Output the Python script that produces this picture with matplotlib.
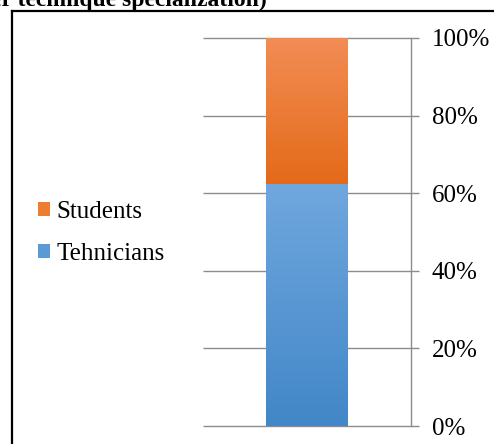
import numpy as np
import matplotlib
matplotlib.use("Agg")
import matplotlib.pyplot as plt
from matplotlib.lines import Line2D
from matplotlib.colors import LinearSegmentedColormap

# Data: share of each group (percent)
categories = ["Tehnicians", "Students"]
shares = [62.4, 37.6]
tick_values = [0, 20, 40, 60, 80, 100]
tick_labels = ["0%", "20%", "40%", "60%", "80%", "100%"]

# gradient colours (top, bottom) for each series
gradients = {
    "Tehnicians": ("#70A7DE", "#4287C8"),
    "Students": ("#F28D55", "#E46A19"),
}
solid = {"Tehnicians": "#5B9BD5", "Students": "#ED7D31"}

W, H = 494, 444
fig = plt.figure(figsize=(W / 100, H / 100), dpi=100)
serif = "Liberation Serif"

ax = fig.add_axes([203 / W, (H - 426) / H, (411 - 203) / W, (426 - 38) / H])

bottom = 0
patches = []
for name, val in zip(categories, shares):
    b = ax.bar(0, val, width=0.394, bottom=bottom, color=solid[name],
               label=name, zorder=3, linewidth=0)
    p = b.patches[0]
    top_c, bot_c = gradients[name]
    cmap = LinearSegmentedColormap.from_list(name, [bot_c, top_c])
    grad = np.linspace(0, 1, 256).reshape(-1, 1)
    im = ax.imshow(grad, cmap=cmap, aspect="auto", origin="lower",
                   extent=[p.get_x(), p.get_x() + p.get_width(), bottom, bottom + val],
                   zorder=4)
    im.set_clip_path(p)
    patches.append(p)
    bottom += val
ax.set_xlim(-0.5, 0.5)
ax.set_ylim(0, 100)

# horizontal gridlines extend past the axis line as outward ticks
grid_col = "#8C8C8C"
for v in tick_values:
    ax.plot([-0.5, 0.5 + 8 / 208], [v, v], color=grid_col, lw=1.0,
            clip_on=False, zorder=2, solid_capstyle="butt")

for s in ["top", "left", "bottom"]:
    ax.spines[s].set_visible(False)
ax.spines["right"].set_color(grid_col)
ax.spines["right"].set_linewidth(1.0)
ax.set_xticks([])
ax.yaxis.tick_right()
ax.set_yticks(tick_values)
ax.set_yticklabels(tick_labels, fontfamily=serif, fontsize=18)
ax.tick_params(axis="y", length=0, pad=15)

# legend (Students above Tehnicians)
handles = [patches[1], patches[0]]
labels = [categories[1], categories[0]]
leg = fig.legend(handles, labels, loc="center left",
                 bbox_to_anchor=(38 / W, (H - 233) / H),
                 borderpad=0, borderaxespad=0,
                 frameon=False, prop={"family": serif, "size": 18},
                 handlelength=0.48, handleheight=0.48, handletextpad=0.25,
                 labelspacing=0.78)

# chart frame
fig.add_artist(Line2D([12 / W, 12 / W], [0, (H - 11) / H], color="black", lw=1.6,
                      transform=fig.transFigure))
fig.add_artist(Line2D([12 / W, 1.0], [(H - 11) / H, (H - 11) / H], color="black", lw=1.6,
                      transform=fig.transFigure))

# caption above the frame
fig.text(267 / W, (H - 6) / H, "per technique specialization)", ha="right", va="baseline",
         fontfamily=serif, fontweight="bold", fontsize=17)

fig.savefig("out.png", dpi=100)
